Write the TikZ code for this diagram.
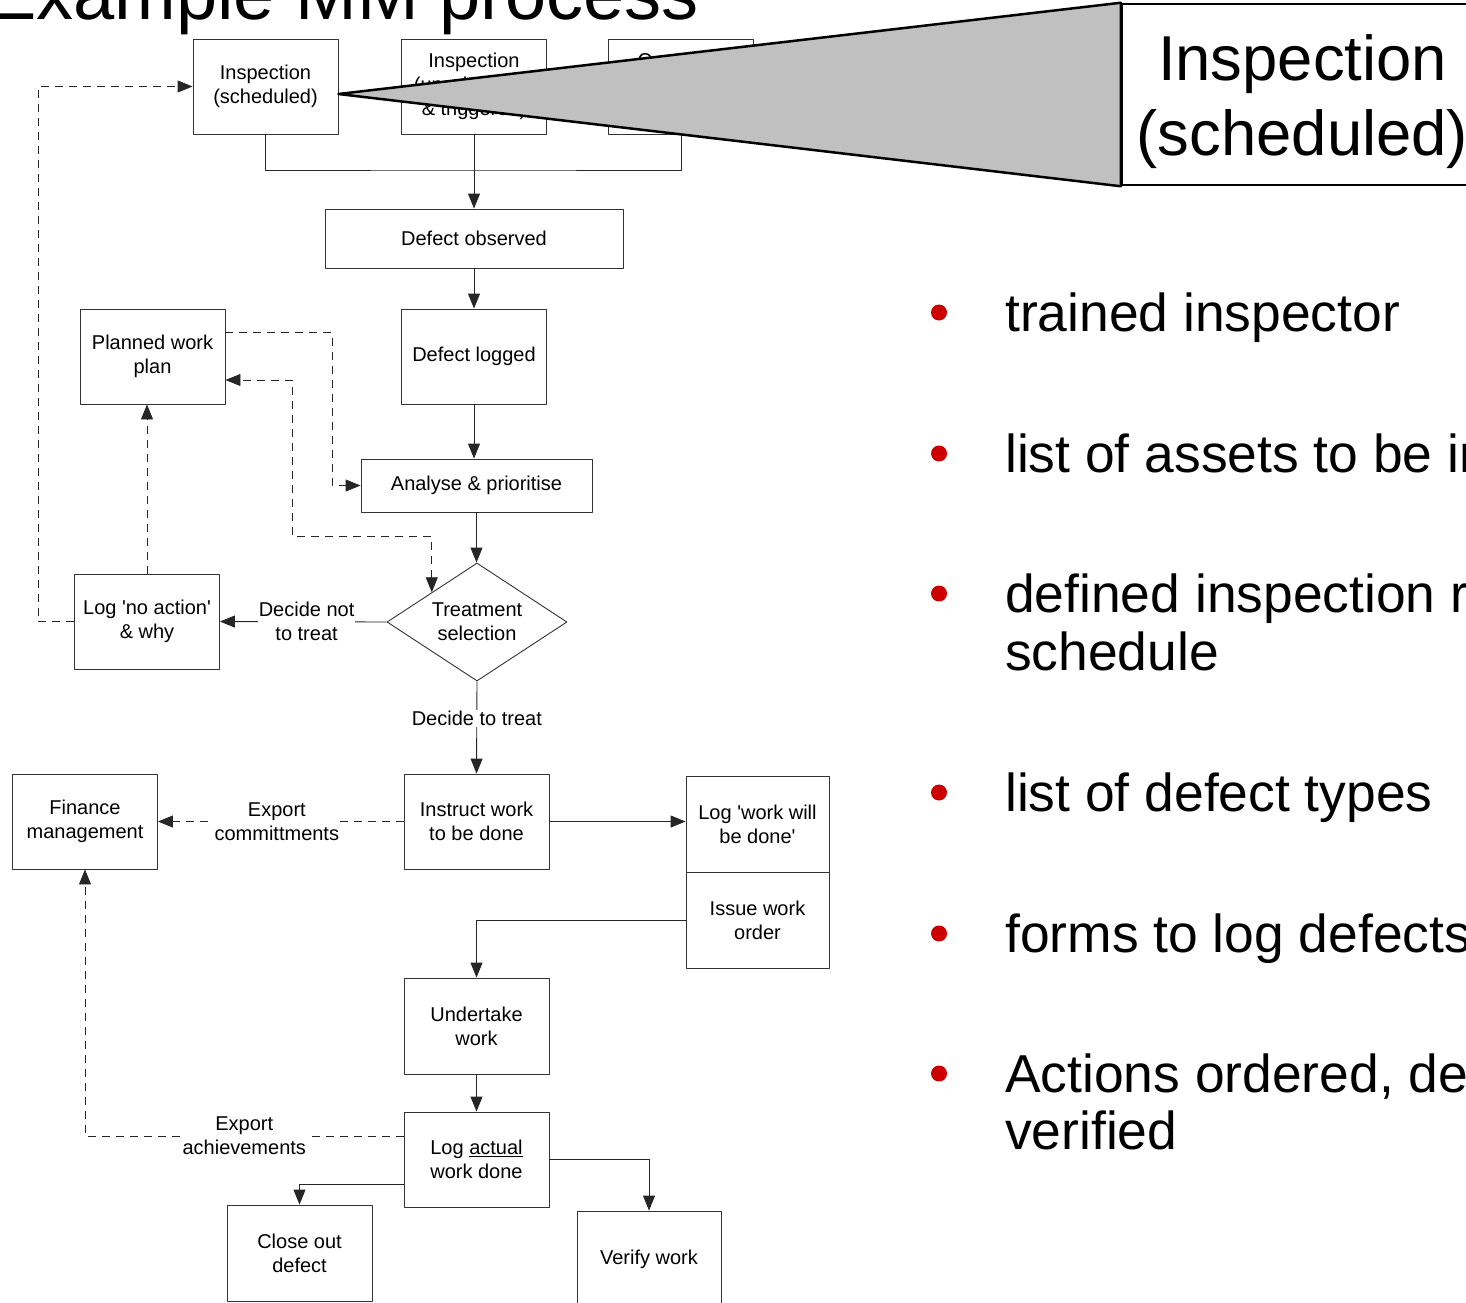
\documentclass[tikz,border=0pt]{standalone}
\usepackage{fontspec}
\setmainfont{Liberation Sans}
\usetikzlibrary{arrows.meta,shapes.geometric}
\definecolor{bulletred}{HTML}{CC0000}
\definecolor{calloutgrey}{HTML}{C0C0C0}

\begin{document}
\begin{tikzpicture}[x=1pt,y=-1pt, line join=round,
  box/.style={draw=black!80, line width=0.9pt, fill=white, minimum width=145pt, minimum height=95pt,
    inner sep=0pt, align=center, font=\fontsize{20}{24}\selectfont},
  choice/.style={box, diamond, aspect=1.5, minimum width=180pt, minimum height=118pt},
  lbl/.style={fill=white, inner sep=1pt, align=center, font=\fontsize{20}{24}\selectfont},
  link/.style={line width=0.9pt, draw=black!85},
  arr/.style={link, -{Triangle[length=15pt,width=12pt]}},
  dsh/.style={arr, dash pattern=on 8pt off 6pt},
  big/.style={anchor=base, inner sep=0pt, font=\fontsize{63.4}{75}\selectfont},
  item/.style={anchor=base west, inner sep=0pt, font=\fontsize{53.4}{58}\selectfont}]
\useasboundingbox (0,0) rectangle (1466,1302);

% title (runs off the top of the slide)
\node[anchor=base west, inner sep=0pt, font=\fontsize{74}{80}\selectfont] (title) at (-13,19) {Example MM process};

% triggers
\node[box] (insp1) at (265.5,86.5) {Inspection\\(scheduled)};
\node[box] (insp2) at (474,86.5) {Inspection\\(unscheduled\\\& triggered)};
\node[box] (insp3) at (681,86.5) {Customer\\complaints\\\& reports};
\coordinate (bus) at (474,170);
\draw[link] (insp1.south) |- (bus) -| (insp3.south);

% defect handling
\node[box, minimum width=298pt, minimum height=59pt] (observed) at (474,238.5) {Defect observed};
\node[box] (logged) at (474,356.5) {Defect logged};
\node[box, minimum width=231pt, minimum height=53pt] (analyse) at (476.5,485.5) {Analyse \& prioritise};
\node[choice] (treat) at (477,622) {Treatment\\selection};
\draw[arr] (insp2.south) -- (observed.north);
\draw[arr] (observed.south) -- (logged.north);
\draw[arr] (logged.south) -- (logged.south |- analyse.north);
\draw[arr] (analyse.south) -- (analyse.south |- treat.north);

% no treatment branch
\node[box] (noaction) at (147,621.5) {Log \textquotesingle no action\textquotesingle\\\& why};
\node[box] (planned) at (152.5,356.5) {Planned work\\plan};
\draw[arr] (treat.west) -- (noaction.east) node[lbl, pos=0.48] {Decide not\\to treat};
\draw[dsh] (noaction.north) -- (noaction.north |- planned.south);
\draw[dsh] (noaction.west) -- ++(-36,0) |- (insp1.west);
\draw[dsh] ([yshift=-24pt]planned.north east) -- ++(107,0) |- (analyse.west);
\draw[dsh, {Triangle[length=15pt,width=12pt]}-{Triangle[length=15pt,width=12pt]}]
  (treat.north west) |- (292,536) |- ([yshift=-23.5pt]planned.east);

% treatment branch
\node[box] (instruct) at (476.5,821.5) {Instruct work\\to be done};
\node[box, minimum width=143pt, minimum height=96pt] (willdo) at (757.5,824) {Log \textquotesingle work will\\be done\textquotesingle};
\node[box, minimum width=143pt, minimum height=96pt] (issue) at (757.5,920) {Issue work\\order};
\node[box] (finance) at (85,821.5) {Finance\\management};
\node[box, minimum height=96pt] (undertake) at (476.5,1026) {Undertake\\work};
\node[box] (actual) at (476.5,1159.5) {Log \underline{actual}\\work done};
\node[box, minimum height=96pt] (closeout) at (299.5,1253) {Close out\\defect};
\node[box, minimum width=144pt, minimum height=96pt] (verify) at (649,1259) {Verify work};
\draw[arr] (treat.south) -- (instruct.north) node[lbl, pos=0.4] {Decide to treat};
\draw[arr] (instruct.east) -- (instruct.east -| willdo.west);
\draw[dsh] (instruct.west) -- (instruct.west -| finance.east) node[lbl, pos=0.516] {Export\\committments};
\draw[arr] (issue.west) -| (undertake.north);
\draw[arr] (undertake.south) -- (actual.north);
\draw[dsh] ([yshift=23.5pt]actual.west) -| (finance.south) node[lbl, pos=0.25] {Export\\achievements};
\draw[arr] ([yshift=-24.5pt]actual.west) -| (closeout.north);
\draw[arr] (actual.east) -| (verify.north);

% zoomed callout
\coordinate (apex) at ([yshift=-7.5pt]insp1.east);
\node[box, draw=black, line width=2.5pt, minimum width=361pt, minimum height=181pt] (zoom) at (1302.5,94.5) {};
\filldraw[fill=calloutgrey, draw=black, line width=2.5pt] (apex) -- (zoom.north west) -- (zoom.south west) -- cycle;
\node[big] (zoomline1) at (1302.5,80) {Inspection};
\node[big] (zoomline2) at (1302.5,155) {(scheduled)};

% requirements list
\foreach \b/\txt in {331/trained inspector, 472/list of assets to be inspected,
    612/defined inspection regime and, 811/list of defect types,
    952/forms to log defects, 1092/{Actions ordered, delivered and}}
{
  \fill[bulletred] (939,\b-18.5) circle (8pt);
  \node[item] (item\b) at (1005,\b) {\txt};
}
\node[item] (item670) at (1005,670) {schedule};
\node[item] (item1149) at (1005,1149) {verified};
\end{tikzpicture}
\end{document}
